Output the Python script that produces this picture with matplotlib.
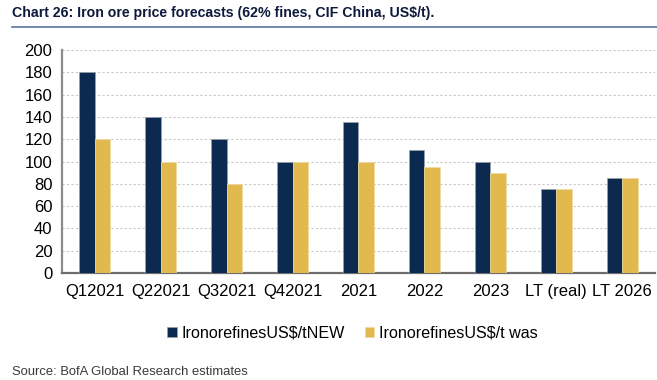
import numpy as np
import matplotlib.pyplot as plt

# 数据
categories = ['Q12021', 'Q22021', 'Q32021', 'Q42021', '2021', '2022', '2023', 'LT (real)', 'LT 2026']
new_values = [180, 140, 120, 100, 135, 110, 100, 75, 85]
was_values = [120, 100, 80, 100, 100, 95, 90, 75, 85]
series_names = ['IronorefinesUS$/tNEW', 'IronorefinesUS$/t was']

navy = '#0c2a50'
gold = '#e1b94f'

plt.rcParams['font.family'] = ['Liberation Sans', 'DejaVu Sans']

fig = plt.figure(figsize=(6.57, 3.8), dpi=100)
ax = fig.add_axes([62 / 657, 1 - 273 / 380, 593 / 657, 223 / 380])

x = np.arange(len(categories))
w = 0.235
ax.bar(x - w / 2, new_values, w, color=navy, edgecolor='#9aa3ad', linewidth=0.5,
       label=series_names[0], zorder=3)
ax.bar(x + w / 2, was_values, w, color=gold, edgecolor='#f0dca0', linewidth=0.5,
       label=series_names[1], zorder=3)

ax.set_xlim(-0.5, len(categories) - 0.5)
ax.set_ylim(0, 200)
ax.set_yticks(range(0, 201, 20))
ax.set_xticks(x)
ax.set_xticklabels(categories)
ax.tick_params(axis='both', length=0, labelsize=12, colors='black')
ax.tick_params(axis='y', pad=7)
ax.tick_params(axis='x', pad=8)
ax.yaxis.grid(True, linestyle=(0, (2, 2)), color='#c8c8c8', linewidth=0.8, zorder=0)

for s in ['top', 'right']:
    ax.spines[s].set_visible(False)
ax.spines['left'].set_color('#8c8c8c')
ax.spines['left'].set_linewidth(1.6)
ax.spines['bottom'].set_color('#6e6e6e')
ax.spines['bottom'].set_linewidth(1.6)

ax.legend(loc='upper center', bbox_to_anchor=(0.49, -0.17), ncol=2, frameon=False,
          fontsize=11.6, handlelength=0.6, handleheight=0.6, handletextpad=0.3,
          columnspacing=1.2)

# 标题和下划线
fig.text(12 / 657, 1 - 13 / 380, 'Chart 26: Iron ore price forecasts (62% fines, CIF China, US$/t).',
         fontsize=10.2, fontweight='bold', color='#0e1a3c', va='center')
fig.add_artist(plt.Line2D([12 / 657, 1], [1 - 27 / 380, 1 - 27 / 380], color='#5a76a0',
                          linewidth=1.2, transform=fig.transFigure))

fig.text(12 / 657, 1 - 372 / 380, 'Source: BofA Global Research estimates',
         fontsize=9.4, color='#3a3a3a', va='center')

fig.savefig('out.png', dpi=100)
